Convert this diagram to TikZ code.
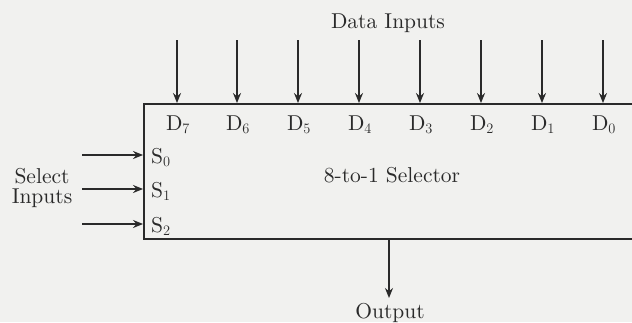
\documentclass[tikz,border=0pt]{standalone}
\usepackage{fontspec}
\setmainfont{lmroman10-regular}[Extension=.otf]
\usetikzlibrary{arrows.meta}
\definecolor{ink}{HTML}{2A2A2A}
\definecolor{paper}{HTML}{F1F1EF}
\begin{document}
\begin{tikzpicture}[x=1pt,y=-1pt,
  lbl/.style={font=\fontsize{21.5}{18}\selectfont, text=ink, inner sep=0pt, anchor=base},
  arr/.style={draw=ink, line width=1.5pt, -{Stealth[length=10pt,width=8pt]}},
  selbox/.style={draw=ink, line width=1.9pt, rectangle, minimum width=520pt, minimum height=135pt, inner sep=0pt}]
\fill[paper] (0,0) rectangle (632,322);
\useasboundingbox (0,0) rectangle (632,322);
\begin{scope}
\clip (0,0) rectangle (632,322);
\node[selbox] (box) at (404,171.5) {};
\end{scope}
\node[lbl] (title) at (388,28) {Data Inputs};
\node[lbl] (name) at (392,182) {8-to-1 Selector};
\node[lbl] (sela) at (42,183) {Select};
\node[lbl] (selb) at (42,203) {Inputs};
\node[lbl] (out) at (390,318) {Output};
\foreach \i/\x in {7/178,6/238,5/299,4/360,3/421,2/482,1/543,0/604}{
  \node[lbl] (d\i) at (\x,130) {D$_{\i}$};
  \coordinate (din\i) at (\x-1,40);
  \draw[arr] (din\i) -- (din\i |- box.north);
}
\foreach \i/\y in {0/155,1/189,2/224}{
  \node[lbl, anchor=base west] (s\i) at (151,\y+8) {S$_{\i}$};
  \coordinate (sin\i) at (82,\y);
  \draw[arr] (sin\i) -- (sin\i -| box.west);
}
\coordinate (outpt) at (389,298);
\draw[arr] (box.south -| outpt) -- (outpt);
\end{tikzpicture}
\end{document}
